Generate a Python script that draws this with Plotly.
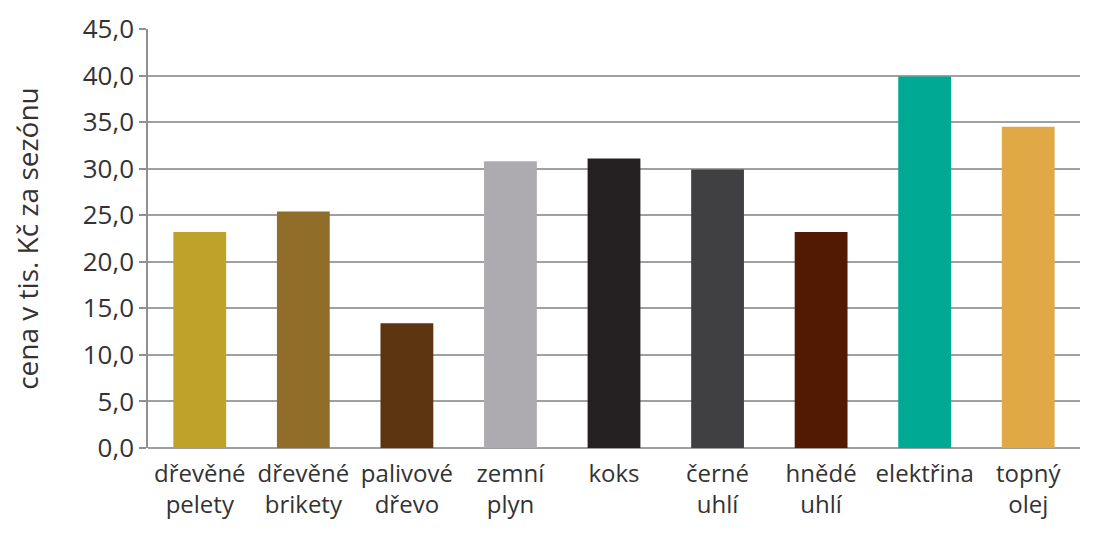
import plotly.graph_objects as go

# Data
categories = ["dřevěné<br>pelety", "dřevěné<br>brikety", "palivové<br>dřevo", "zemní<br>plyn",
              "koks", "černé<br>uhlí", "hnědé<br>uhlí", "elektřina", "topný<br>olej"]
prices = [23.2, 25.4, 13.4, 30.8, 31.1, 29.9, 23.2, 39.9, 34.5]
bar_colors = ["#BEA229", "#906E2A", "#5C3410", "#ADABB0", "#242021",
              "#404042", "#521903", "#00A994", "#E0A945"]
y_ticks = [0, 5, 10, 15, 20, 25, 30, 35, 40, 45]

fig = go.Figure()
fig.add_trace(go.Bar(x=categories, y=prices, marker_color=bar_colors,
                     marker_line_width=0, showlegend=False))

# page body has an 8px margin, so keep the figure inside the window
fig.update_layout(
    width=1087, height=519,
    margin=dict(l=140, r=15, t=21, b=79),
    plot_bgcolor="white", paper_bgcolor="white",
    bargap=0.49,
    separators=", ",
    font=dict(family="Open Sans", size=24, color="#333333"),
)
fig.update_yaxes(
    range=[0, 45], tickvals=y_ticks, tickformat=".1f",
    automargin="left",
    showgrid=True, gridcolor="#a0a0a0", gridwidth=1.5,
    showline=True, linecolor="#909090", linewidth=1.5,
    ticks="outside", ticklen=7, tickcolor="#909090", tickwidth=1.5,
    tickfont=dict(size=26),
    title=dict(text="cena v tis. Kč za sezónu", font=dict(size=28), standoff=36),
    zeroline=True, zerolinecolor="#a0a0a0", zerolinewidth=1.5,
)
fig.update_xaxes(
    automargin=False,
    showline=False, tickfont=dict(size=24), ticks="",
    ticklabelstandoff=9,
)

fig.write_html("out.html")
